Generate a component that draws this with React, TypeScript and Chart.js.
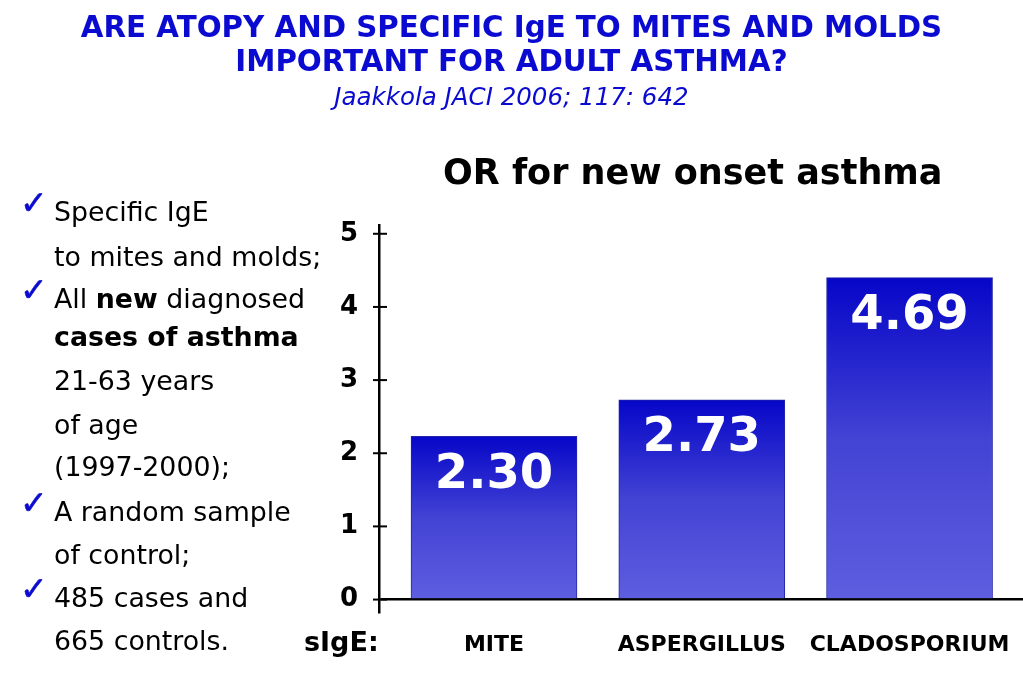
import React, { useEffect, useRef } from 'react';
import { Chart, registerables } from 'chart.js';

Chart.register(...registerables);

const categories = ['MITE', 'ASPERGILLUS', 'CLADOSPORIUM'];
const barIndex = [0, 1, 2];
const barValues = [2.23, 2.73, 4.4];
const valueLabels = ['2.30', '2.73', '4.69'];
const yTicks = [0, 1, 2, 3, 4, 5];

const titleLines = ['ARE ATOPY AND SPECIFIC IgE TO MITES AND MOLDS', 'IMPORTANT FOR ADULT ASTHMA?'];
const citation = 'Jaakkola JACI 2006; 117: 642';
const chartTitle = 'OR for new onset asthma';
const axisPrefix = 'sIgE:';

type Seg = { t: string; b?: boolean };
const bulletLines: { check: boolean; segs: Seg[]; cy: number }[] = [
  { check: true, segs: [{ t: 'Specific IgE' }], cy: 213 },
  { check: false, segs: [{ t: 'to mites and molds;' }], cy: 258 },
  { check: true, segs: [{ t: 'All ' }, { t: 'new', b: true }, { t: ' diagnosed' }], cy: 300 },
  { check: false, segs: [{ t: 'cases of asthma', b: true }], cy: 338 },
  { check: false, segs: [{ t: '21-63 years' }], cy: 382 },
  { check: false, segs: [{ t: 'of age' }], cy: 426 },
  { check: false, segs: [{ t: '(1997-2000);' }], cy: 468 },
  { check: true, segs: [{ t: 'A random sample' }], cy: 513 },
  { check: false, segs: [{ t: 'of control;' }], cy: 556 },
  { check: true, segs: [{ t: '485 cases and' }], cy: 599 },
  { check: false, segs: [{ t: '665 controls.' }], cy: 642 },
];

const FONT = "'DejaVu Sans', sans-serif";

export default function App() {
  const canvasRef = useRef<HTMLCanvasElement | null>(null);

  useEffect(() => {
    const canvas = canvasRef.current;
    if (!canvas) return;

    const crossTicks = {
      id: 'crossTicks',
      afterDraw(chart: any) {
        const ys = chart.scales.y;
        const c = chart.ctx;
        const x0 = chart.chartArea.left;
        c.save();
        c.strokeStyle = '#000';
        c.lineWidth = 2;
        yTicks.forEach((v) => {
          const py = ys.getPixelForValue(v);
          c.beginPath();
          c.moveTo(x0 - 6, py);
          c.lineTo(x0 + 8, py);
          c.stroke();
        });
        c.restore();
      },
    };

    const barLabels = {
      id: 'barLabels',
      afterDatasetsDraw(chart: any) {
        const meta = chart.getDatasetMeta(0);
        const c = chart.ctx;
        c.save();
        c.fillStyle = '#ffffff';
        c.font = `bold 48px ${FONT}`;
        c.textAlign = 'center';
        c.textBaseline = 'middle';
        meta.data.forEach((el: any, i: number) => {
          c.fillText(valueLabels[i], el.x, el.y + 39);
        });
        c.restore();
      },
    };

    const chart = new Chart(canvas, {
      type: 'bar',
      data: {
        datasets: [
          {
            data: barIndex.map((x, i) => ({ x, y: barValues[i] })),
            barThickness: 166,
            borderWidth: 1,
            borderColor: '#2424a8',
            backgroundColor: (ctx: any) => {
              const ch = ctx.chart;
              if (!ch.chartArea || !ctx.raw) return '#3a3ad2';
              const ys = ch.scales.y;
              const top = ys.getPixelForValue(ctx.raw.y);
              const base = ys.getPixelForValue(0);
              const g = ch.ctx.createLinearGradient(0, top, 0, base);
              g.addColorStop(0, '#0606c8');
              g.addColorStop(0.5, '#4343d4');
              g.addColorStop(1, '#5e5ee0');
              return g;
            },
          },
        ],
      },
      options: {
        animation: false,
        responsive: false,
        maintainAspectRatio: false,
        layout: { padding: { left: 300, right: 0, top: 225, bottom: 0 } },
        plugins: {
          legend: { display: false },
          title: { display: false },
          tooltip: { enabled: false },
        },
        scales: {
          x: {
            type: 'linear',
            offset: false,
            min: -0.5535,
            max: 2.546,
            afterBuildTicks: (s: any) => {
              s.ticks = barIndex.map((v) => ({ value: v }));
            },
            afterFit: (s: any) => {
              s.height = 70;
            },
            grid: { display: false, offset: false },
            border: { display: false },
            ticks: {
              padding: 12,
              color: '#000',
              font: { family: FONT, size: 22, weight: 'bold' },
              callback: (v: any) => categories[v as number] ?? '',
              maxRotation: 0,
              autoSkip: false,
            },
          },
          y: {
            min: -0.17,
            max: 5.12,
            afterBuildTicks: (s: any) => {
              s.ticks = yTicks.map((v) => ({ value: v }));
            },
            afterFit: (s: any) => {
              s.width = 79;
            },
            border: { display: true, color: '#000', width: 2.5 },
            grid: {
              drawTicks: false,
              color: (ctx: any) => (ctx.tick && ctx.tick.value === 0 ? '#000' : 'rgba(0,0,0,0)'),
              lineWidth: 2.5,
            },
            ticks: {
              padding: 21,
              color: '#000',
              font: { family: FONT, size: 26, weight: 'bold' },
            },
          },
        },
      } as any,
      plugins: [crossTicks, barLabels],
    });

    return () => chart.destroy();
  }, []);

  const abs = (extra: React.CSSProperties): React.CSSProperties => ({
    position: 'absolute',
    whiteSpace: 'nowrap',
    fontFamily: FONT,
    ...extra,
  });

  return (
    <div style={{ position: 'fixed', left: 0, top: 0, width: 1023, height: 682, background: '#fff', overflow: 'hidden' }}>
      <canvas ref={canvasRef} width={1023} height={682} style={{ position: 'absolute', left: 0, top: 0, width: 1023, height: 682 }} />
      <div style={abs({ left: 0, width: 1023, top: 10, textAlign: 'center', color: '#0a0ad0', fontWeight: 'bold', fontSize: 29.3, lineHeight: '34px' })}>
        {titleLines.map((l, i) => (
          <div key={i}>{l}</div>
        ))}
      </div>
      <div style={abs({ left: 0, width: 1023, top: 81, textAlign: 'center', color: '#0a0ad0', fontStyle: 'italic', fontSize: 24.5, lineHeight: '32px' })}>
        {citation}
      </div>
      <div style={abs({ left: 443, top: 150, color: '#000', fontWeight: 'bold', fontSize: 35, lineHeight: '44px' })}>{chartTitle}</div>
      {bulletLines.map((ln, i) => (
        <React.Fragment key={i}>
          {ln.check && (
            <div
              style={abs({
                left: 20,
                top: ln.cy - 31,
                color: '#0a0ad0',
                fontSize: 33,
                lineHeight: '42px',
                WebkitTextStroke: '0.6px #0a0ad0',
              } as any)}
            >
              ✓
            </div>
          )}
          <div style={abs({ left: 54, top: ln.cy - 18, color: '#000', fontSize: 26.8, lineHeight: '34px' })}>
            {ln.segs.map((s, j) => (
              <span key={j} style={{ fontWeight: s.b ? 'bold' : 'normal' }}>
                {s.t}
              </span>
            ))}
          </div>
        </React.Fragment>
      ))}
      <div style={abs({ left: 304, top: 625, color: '#000', fontWeight: 'bold', fontSize: 27, lineHeight: '34px' })}>{axisPrefix}</div>
    </div>
  );
}
